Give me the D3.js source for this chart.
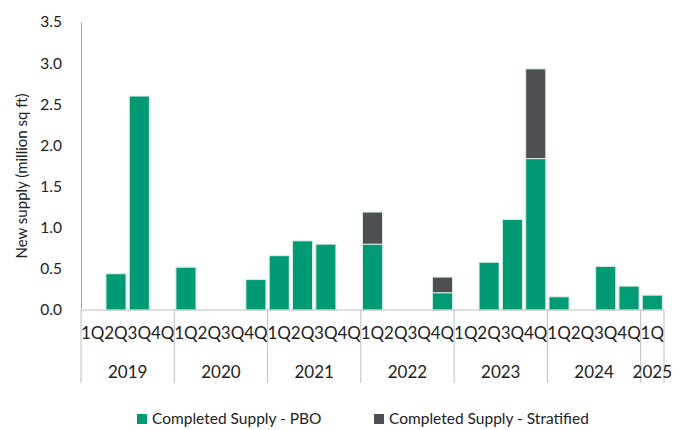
<!DOCTYPE html>
<html>
<head>
<meta charset="utf-8">
<script src="https://cdn.jsdelivr.net/npm/d3@7"></script>
<style>
  body { margin: 0; background: #fff; }
  text { font-family: Lato, "Open Sans", sans-serif; fill: #222; }
</style>
</head>
<body>
<div id="chart"></div>
<script>
// quarters 2019 1Q .. 2025 1Q
const years = ["2019", "2020", "2021", "2022", "2023", "2024", "2025"];
const quarters = ["1Q", "2Q", "3Q", "4Q"];
const pbo = [0, 0.44, 2.60, 0,
             0.52, 0, 0, 0.37,
             0.66, 0.84, 0.80, 0,
             0.80, 0, 0, 0.21,
             0, 0.58, 1.10, 1.84,
             0.16, 0, 0.53, 0.29,
             0.18];
const stratified = [0, 0, 0, 0,
                    0, 0, 0, 0,
                    0, 0, 0, 0,
                    0.39, 0, 0, 0.19,
                    0, 0, 0, 1.09,
                    0, 0, 0, 0,
                    0];
const yTicks = [0, 0.5, 1.0, 1.5, 2.0, 2.5, 3.0, 3.5];
const seriesNames = ["Completed Supply - PBO", "Completed Supply - Stratified"];
const colors = ["#009b74", "#4d4f53"];

const width = 689, height = 430;
const margin = { top: 22, left: 81, right: 25, bottom: 120 };
const axisY = height - margin.bottom;

// build period list
const periods = [];
years.forEach(y => {
  const n = y === "2025" ? 1 : 4;
  for (let i = 0; i < n; i++) periods.push({ year: y, q: quarters[i], key: y + quarters[i] });
});
const data = periods.map((p, i) => ({ ...p, pbo: pbo[i], strat: stratified[i] }));

const svg = d3.select("#chart").append("svg")
  .attr("width", width).attr("height", height);

const x = d3.scaleBand()
  .domain(data.map(d => d.key))
  .range([margin.left, width - margin.right])
  .paddingInner(0.14)
  .paddingOuter(0.07);

const y = d3.scaleLinear()
  .domain([0, 3.5])
  .range([axisY, margin.top]);

// stacked bars
const stack = d3.stack().keys(["pbo", "strat"]);
const layers = stack(data);

svg.append("g").selectAll("g")
  .data(layers)
  .join("g")
  .attr("fill", (d, i) => colors[i])
  .selectAll("rect")
  .data(d => d.filter(v => v[1] - v[0] > 0))
  .join("rect")
  .attr("x", d => x(d.data.key))
  .attr("y", d => y(d[1]))
  .attr("height", d => y(d[0]) - y(d[1]))
  .attr("width", x.bandwidth())
  .attr("stroke", "#d8ebe4")
  .attr("stroke-width", 1);

// y axis
const yAxis = svg.append("g")
  .attr("transform", `translate(${margin.left},0)`)
  .call(d3.axisLeft(y).tickValues(yTicks).tickFormat(d3.format(".1f")).tickSize(0).tickPadding(19));
yAxis.select(".domain").attr("stroke", "#a6a6a6");
yAxis.selectAll("text").style("font-size", "15.5px").style("font-family", "Lato, sans-serif").attr("fill", "#222");

// x axis baseline
const x0 = margin.left, x1 = width - margin.right;
svg.append("line")
  .attr("x1", x0).attr("x2", x1)
  .attr("y1", axisY).attr("y2", axisY)
  .attr("stroke", "#bfbfbf");

// quarter labels
svg.append("g").selectAll("text")
  .data(data)
  .join("text")
  .attr("x", d => x(d.key) + x.bandwidth() / 2)
  .attr("y", axisY + 29)
  .attr("text-anchor", "middle")
  .style("font-size", "17px")
  .text(d => d.q);

// year groups
const step = x.step();
const start = x.range()[0];
const yearGroups = years.map(yr => {
  const idx = data.map((d, i) => d.year === yr ? i : -1).filter(i => i >= 0);
  return { year: yr, a: start + idx[0] * step, b: start + (idx[idx.length - 1] + 1) * step };
});

const sepX = [yearGroups[0].a, ...yearGroups.map(g => g.b)];
svg.append("g").selectAll("line")
  .data(sepX)
  .join("line")
  .attr("x1", d => d).attr("x2", d => d)
  .attr("y1", axisY).attr("y2", axisY + 73)
  .attr("stroke", "#bfbfbf");

svg.append("g").selectAll("text")
  .data(yearGroups)
  .join("text")
  .attr("x", d => (d.a + d.b) / 2)
  .attr("y", axisY + 68)
  .attr("text-anchor", "middle")
  .style("font-size", "17px")
  .text(d => d.year);

// y axis title
svg.append("text")
  .attr("transform", `translate(27,${(margin.top + axisY) / 2 + 10}) rotate(-90)`)
  .attr("text-anchor", "middle")
  .style("font-size", "15px")
  .text("New supply (million sq ft)");

// legend
const legendX = [137, 374];
const legend = svg.append("g").selectAll("g")
  .data(seriesNames)
  .join("g")
  .attr("transform", (d, i) => `translate(${legendX[i]},414)`);
legend.append("rect")
  .attr("width", 10).attr("height", 10)
  .attr("fill", (d, i) => colors[i]);
legend.append("text")
  .attr("x", 15).attr("y", 10)
  .style("font-size", "15.5px")
  .text(d => d);
</script>
</body>
</html>
